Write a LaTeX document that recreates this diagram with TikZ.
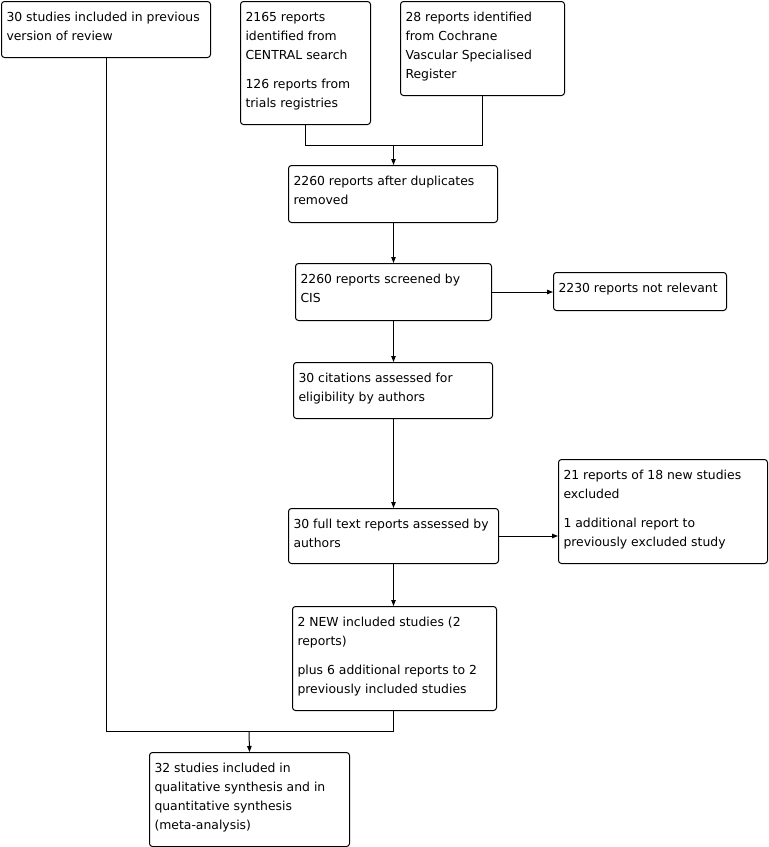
\documentclass[tikz,border=0pt]{standalone}
\usepackage{fontspec}
\setmainfont{DejaVu Sans}
\usetikzlibrary{arrows.meta}
\newcommand\bxt[3]{\begin{minipage}[t][#2pt][t]{\dimexpr#1pt-10pt\relax}\raggedright\setlength\parskip{10pt}\fontsize{12.4}{19}\selectfont\rule{0pt}{20pt}#3\end{minipage}}
\newcommand\ml[1]{\mbox{#1}}
\tikzset{
  flowbox/.style={draw, line width=1pt, rounded corners=3pt, inner xsep=5pt, inner ysep=0pt, anchor=north west, fill=white},
  conn/.style={line width=1pt},
  arr/.style={line width=1pt, -{Triangle[length=6pt,width=4.5pt]}}
}
\begin{document}
\begin{tikzpicture}[x=1pt,y=-1pt]
\useasboundingbox[fill=white] (0,0) rectangle (769,847);
\node[flowbox] (b1) at (1,1) {\bxt{209}{56}{\ml{30 studies included in previous}\\\ml{version of review}}};
\node[flowbox] (b2) at (240,1) {\bxt{130}{123}{\ml{2165 reports}\\\ml{identified from}\\\ml{CENTRAL search}\par\ml{126 reports from}\\\ml{trials registries}}};
\node[flowbox] (b3) at (400,1) {\bxt{164}{94}{\ml{28 reports identified}\\\ml{from Cochrane}\\\ml{Vascular Specialised}\\\ml{Register}}};
\node[flowbox] (b4) at (288,165) {\bxt{209}{57}{\ml{2260 reports after duplicates}\\\ml{removed}}};
\node[flowbox] (b5) at (295,263) {\bxt{196}{57}{\ml{2260 reports screened by}\\\ml{CIS}}};
\node[flowbox] (b6) at (553,272) {\bxt{173}{38}{\ml{2230 reports not relevant}}};
\node[flowbox] (b7) at (293,362) {\bxt{199}{56}{\ml{30 citations assessed for}\\\ml{eligibility by authors}}};
\node[flowbox] (b8) at (558,459) {\bxt{209}{104}{\ml{21 reports of 18 new studies}\\\ml{excluded}\par\ml{1 additional report to}\\\ml{previously excluded study}}};
\node[flowbox] (b9) at (288,508) {\bxt{210}{55}{\ml{30 full text reports assessed by}\\\ml{authors}}};
\node[flowbox] (b10) at (292,606) {\bxt{204}{104}{\ml{2 NEW included studies (2}\\\ml{reports)}\par\ml{plus 6 additional reports to 2}\\\ml{previously included studies}}};
\node[flowbox] (b11) at (149,752) {\bxt{200}{94}{\ml{32 studies included in}\\\ml{qualitative synthesis and in}\\\ml{quantitative synthesis}\\\ml{(meta-analysis)}}};
\coordinate (j1) at (393.5,145);
\coordinate (j2) at (249,731);
\draw[conn] (b2.south) |- (j1);
\draw[conn] (b3.south) |- (j1);
\draw[arr] (j1) -- (j1 |- b4.north);
\draw[arr] (b4.south -| j1) -- (b5.north -| j1);
\draw[arr] (b5.east) -- (b5.east -| b6.west);
\draw[arr] (b5.south -| j1) -- (b7.north -| j1);
\draw[arr] (b7.south -| j1) -- (b9.north -| j1);
\draw[arr] (b9.east) -- (b9.east -| b8.west);
\draw[arr] (b9.south -| j1) -- (b10.north -| j1);
\draw[conn] (b1.south) |- (j2);
\draw[conn] (b10.south -| j1) |- (j2);
\draw[arr] (j2) -- (b11.north);
\end{tikzpicture}
\end{document}
